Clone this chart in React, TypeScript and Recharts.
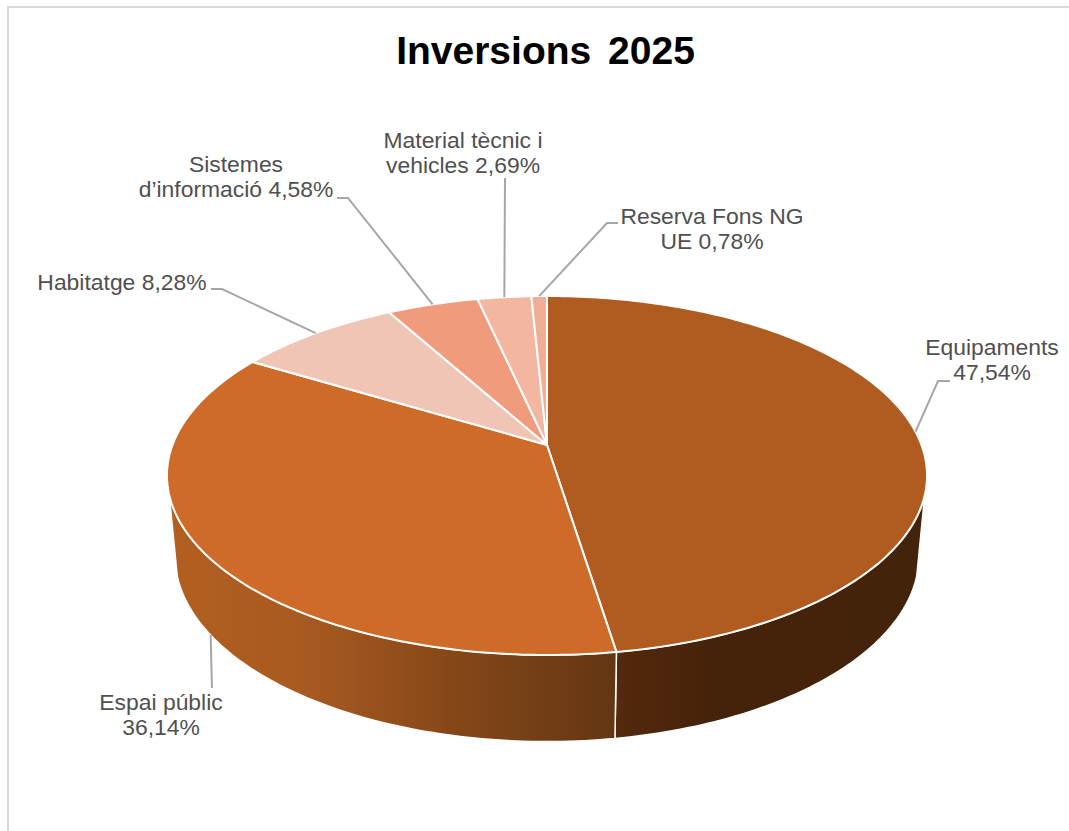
import { Pie, PieChart } from "recharts";

const categories = ["Equipaments", "Espai públic", "Habitatge", "Sistemes d’informació", "Material tècnic i vehicles", "Reserva Fons NG UE"];
const shares = [47.54, 36.14, 8.28, 4.58, 2.69, 0.78];
const colors = ["#B05C21", "#CE6B28", "#F0C5B5", "#EF9B7C", "#F3B7A1", "#F1AE97"];
// words on the first line of each label
const firstLineWords = [1, 2, 2, 1, 3, 3];
const data = categories.map((name, i) => ({ name, value: shares[i] }));

const FONT = "'Liberation Sans', Arial, sans-serif";
const PERSPECTIVE = 0.17;
const TOP_RING = { cx: 547, cy: 445, rx: 374.5, ry: 174.3 };
const BOTTOM_RING = { cx: 547, cy: 524, rx: 366.6, ry: 180.6 };
const WALL_FROM = 106;
const WALL_TO = 254;

// where the leader turns, and where the label text sits
const labelElbows = [[[938, 381], [950, 381]], [[212, 688]], [[222, 289], [211, 289]], [[348, 198], [337, 198]], [[505, 178]], [[607, 223], [618, 223]]];
const labelCenters = [[992, 355], [161, 710], [122, 290], [236, 172], [463, 148], [712, 224]];

type Ring = { cx: number; cy: number; rx: number; ry: number };

// clockwise degrees from the top of the disc, projected on the tilted plane
function project(ring: Ring, deg: number) {
  const a = (deg * Math.PI) / 180;
  const u = Math.sin(a);
  const v = Math.cos(a);
  const s = 1 / (1 + PERSPECTIVE * v);
  return [ring.cx + ring.rx * u * s, ring.cy - ring.ry * v * s];
}

function arc(ring: Ring, from: number, to: number) {
  const steps = Math.max(2, Math.ceil(Math.abs(to - from)));
  const pts: number[][] = [];
  for (let i = 0; i <= steps; i++) pts.push(project(ring, from + ((to - from) * i) / steps));
  return pts;
}

const toPath = (pts: number[][]) => "M" + pts.map((p) => `${p[0].toFixed(2)},${p[1].toFixed(2)}`).join("L") + "Z";

function TopSlice(props: any) {
  const from = 90 - props.startAngle;
  const to = 90 - props.endAngle;
  const pts = [[TOP_RING.cx, TOP_RING.cy], ...arc(TOP_RING, from, to)];
  return <path d={toPath(pts)} fill={colors[props.index ?? categories.indexOf(props.name)]} stroke="#fff" strokeWidth={2} strokeLinejoin="round" />;
}

function WallSlice(props: any) {
  const from = Math.max(90 - props.startAngle, WALL_FROM);
  const to = Math.min(90 - props.endAngle, WALL_TO);
  if (to <= from) return null;
  const pts = [...arc(TOP_RING, from, to), ...arc(BOTTOM_RING, to, from)];
  const fill = from < 171 ? "url(#wallRight)" : "url(#wallLeft)";
  return <path d={toPath(pts)} fill={fill} stroke="#fff" strokeWidth={1.5} strokeLinejoin="round" />;
}

function SliceLabel(props: any) {
  const i = props.index;
  const words = `${categories[i]} ${shares[i].toFixed(2).replace(".", ",")}%`.split(" ");
  const lines = [words.slice(0, firstLineWords[i]).join(" "), words.slice(firstLineWords[i]).join(" ")].filter(Boolean);
  const cw = 90 - props.midAngle;
  const end = project(i === 1 ? BOTTOM_RING : TOP_RING, cw);
  const leader = [end, ...labelElbows[i]].map((p) => p.join(",")).join(" ");
  const [x, y] = labelCenters[i];
  return (
    <g>
      <polyline points={leader} fill="none" stroke="#A6A6A6" strokeWidth={2} />
      <text x={x} y={y} textAnchor="middle" fontFamily={FONT} fontSize={22.9} fill="#505050">
        {lines.map((line, n) => (
          <tspan key={n} x={x} dy={n === 0 ? 0 : 25}>
            {line}
          </tspan>
        ))}
      </text>
    </g>
  );
}

export default function App() {
  return (
    <div style={{ position: "absolute", left: 0, top: 0, width: 1069, height: 831, background: "#fff", overflow: "hidden" }}>
      <div style={{ position: "absolute", left: 7, top: 6, width: 1070, height: 840, borderLeft: "2.5px solid #D9D9D9", borderTop: "2.5px solid #D9D9D9" }} />
      <div style={{ position: "absolute", left: 0, top: 0 }}>
        <PieChart width={1069} height={831} margin={{ top: 0, right: 0, bottom: 0, left: 0 }}>
          <defs>
            <linearGradient id="wallLeft" gradientUnits="userSpaceOnUse" x1={170} y1={0} x2={615} y2={0}>
              <stop offset="0" stopColor="#B35F21" />
              <stop offset="0.3" stopColor="#A85A20" />
              <stop offset="0.7" stopColor="#7F4417" />
              <stop offset="1" stopColor="#643613" />
            </linearGradient>
            <linearGradient id="wallRight" gradientUnits="userSpaceOnUse" x1={615} y1={0} x2={925} y2={0}>
              <stop offset="0" stopColor="#55290D" />
              <stop offset="0.3" stopColor="#45230A" />
              <stop offset="1" stopColor="#43230A" />
            </linearGradient>
          </defs>
          <text x={545.5} y={64} textAnchor="middle" fontFamily={FONT} fontSize={39} fontWeight={700} wordSpacing={6} fill="#000">
            Inversions 2025
          </text>
          <Pie data={data} dataKey="value" nameKey="name" cx={BOTTOM_RING.cx} cy={BOTTOM_RING.cy} outerRadius={BOTTOM_RING.rx} startAngle={90} endAngle={-270} isAnimationActive={false} shape={WallSlice} label={false} labelLine={false} />
          <Pie data={data} dataKey="value" nameKey="name" cx={TOP_RING.cx} cy={TOP_RING.cy} outerRadius={TOP_RING.rx} startAngle={90} endAngle={-270} isAnimationActive={false} shape={TopSlice} label={SliceLabel} labelLine={false} />
        </PieChart>
      </div>
    </div>
  );
}
